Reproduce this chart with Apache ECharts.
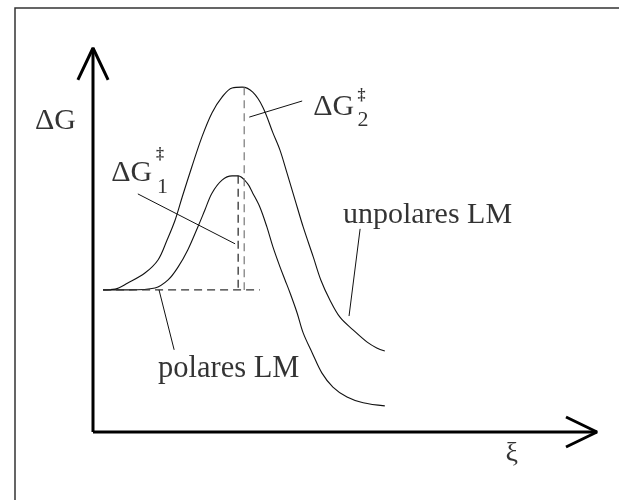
<!DOCTYPE html>
<html>
<head>
<meta charset="utf-8">
<script src="https://cdn.jsdelivr.net/npm/echarts@6/dist/echarts.min.js"></script>
<style>
  html, body { margin: 0; padding: 0; background: #fff; }
  #chart { width: 619px; height: 500px; }
</style>
</head>
<body>
<div id="chart"></div>
<script>
// reaction coordinate ξ (0..10) and free energy ΔG (0..10), arbitrary units
const xiUnpolar = [0.20, 0.44, 0.69, 1.03, 1.29, 1.47, 1.63, 1.77, 1.96, 2.16, 2.36, 2.56, 2.76, 2.96,
  3.17, 3.37, 3.57, 3.71, 3.85, 4.01, 4.17, 4.37, 4.52, 4.70, 4.90, 5.16, 5.44, 5.63, 5.79];
const gUnpolar = [3.70, 3.72, 3.88, 4.14, 4.48, 5.00, 5.52, 6.12, 6.90, 7.68, 8.31, 8.72, 8.96, 8.98,
  8.85, 8.46, 7.79, 7.34, 6.74, 6.04, 5.34, 4.56, 3.96, 3.44, 2.99, 2.66, 2.34, 2.19, 2.11];

const xiPolar = [0.20, 0.73, 1.23, 1.49, 1.69, 1.88, 2.08, 2.22, 2.36, 2.56, 2.76, 2.88, 3.06, 3.17,
  3.31, 3.45, 3.57, 3.71, 3.81, 3.91, 4.05, 4.17, 4.35, 4.54, 4.76, 5.04, 5.36, 5.79];
const gPolar = [3.70, 3.70, 3.75, 3.96, 4.30, 4.74, 5.34, 5.78, 6.22, 6.56, 6.67, 6.67, 6.48, 6.22,
  5.86, 5.34, 4.82, 4.30, 3.96, 3.62, 3.10, 2.58, 2.06, 1.54, 1.17, 0.91, 0.76, 0.68];

// start level and transition states
const gStart = 3.70;
const xiStartDash = [0.20, 3.31];
const ts1 = [2.88, 6.67];
const ts2 = [3.00, 8.98];

// leader lines [x1, y1, x2, y2]
const leaders = [
  [3.10, 8.20, 4.15, 8.62],
  [0.89, 6.20, 2.82, 4.90],
  [5.30, 5.29, 5.08, 3.02],
  [1.31, 3.70, 1.61, 2.14]
];

// text labels: [text, xi, ΔG, fontSize, align]
const labels = [
  ['ΔG', -1.15, 8.10, 30, 'left'],
  ['ΔG', 4.37, 8.46, 30, 'left'],
  ['‡', 5.25, 8.76, 16, 'left'],
  ['2', 5.25, 8.12, 22, 'left'],
  ['ΔG', 0.36, 6.74, 30, 'left'],
  ['‡', 1.25, 7.21, 16, 'left'],
  ['1', 1.27, 6.37, 22, 'left'],
  ['unpolares LM', 4.96, 5.65, 30, 'left'],
  ['polares LM', 1.29, 1.65, 30.5, 'left'],
  ['ξ', 8.31, -0.57, 28, 'center']
];

const zip = (xs, ys) => xs.map((x, i) => [x, ys[i]]);

function lineSeries(data, width, type, color, smooth) {
  return {
    type: 'line',
    data: data,
    symbol: 'none',
    clip: false,
    silent: true,
    smooth: smooth || false,
    lineStyle: { color: color || '#000', width: width, type: type || 'solid', cap: 'butt' }
  };
}

const chart = echarts.init(document.getElementById('chart'));

const series = [
  // axes with open arrow heads
  lineSeries([[0, 0], [0, 10]], 3),
  lineSeries([[0, 0], [10, 0]], 3),
  lineSeries([[-0.30, 9.17], [0, 10], [0.30, 9.17]], 3),
  lineSeries([[9.385, 0.39], [10, 0], [9.385, -0.39]], 3),
  // curves
  lineSeries(zip(xiUnpolar, gUnpolar), 1.1, 'solid', '#111', 0.35),
  lineSeries(zip(xiPolar, gPolar), 1.1, 'solid', '#111', 0.35),
  // dashed helpers
  lineSeries([[xiStartDash[0], gStart], [xiStartDash[1], gStart]], 1.2, [8, 5], '#333'),
  lineSeries([[ts1[0], ts1[1]], [ts1[0], gStart]], 1.2, [8, 5], '#222'),
  lineSeries([[ts2[0], ts2[1]], [ts2[0], gStart]], 1.2, [8, 5], '#777')
];

leaders.forEach(l => series.push(lineSeries([[l[0], l[1]], [l[2], l[3]]], 1, 'solid', '#111')));

series.push({
  type: 'scatter',
  symbolSize: 0,
  silent: true,
  clip: false,
  data: labels.map(t => ({
    value: [t[1], t[2]],
    label: {
      show: true,
      formatter: t[0],
      position: [0, 0],
      align: t[4],
      verticalAlign: 'middle',
      fontSize: t[3],
      fontWeight: t[0] === '‡' ? 'bold' : 'normal',
      fontFamily: 'Liberation Serif',
      color: '#000'
    }
  }))
});

chart.setOption({
  animation: false,
  backgroundColor: '#fff',
  // x range starts left of the ΔG axis so the left arrow arm stays in range
  grid: { left: 17.4, right: 22, top: 48, bottom: 68 },
  xAxis: { type: 'value', min: -1.5, max: 10, show: false },
  yAxis: { type: 'value', min: 0, max: 10, show: false },
  graphic: [{
    type: 'rect',
    shape: { x: 15, y: 8, width: 700, height: 600 },
    style: { fill: 'none', stroke: '#333', lineWidth: 1.5 },
    silent: true
  }],
  series: series
});
</script>
</body>
</html>
